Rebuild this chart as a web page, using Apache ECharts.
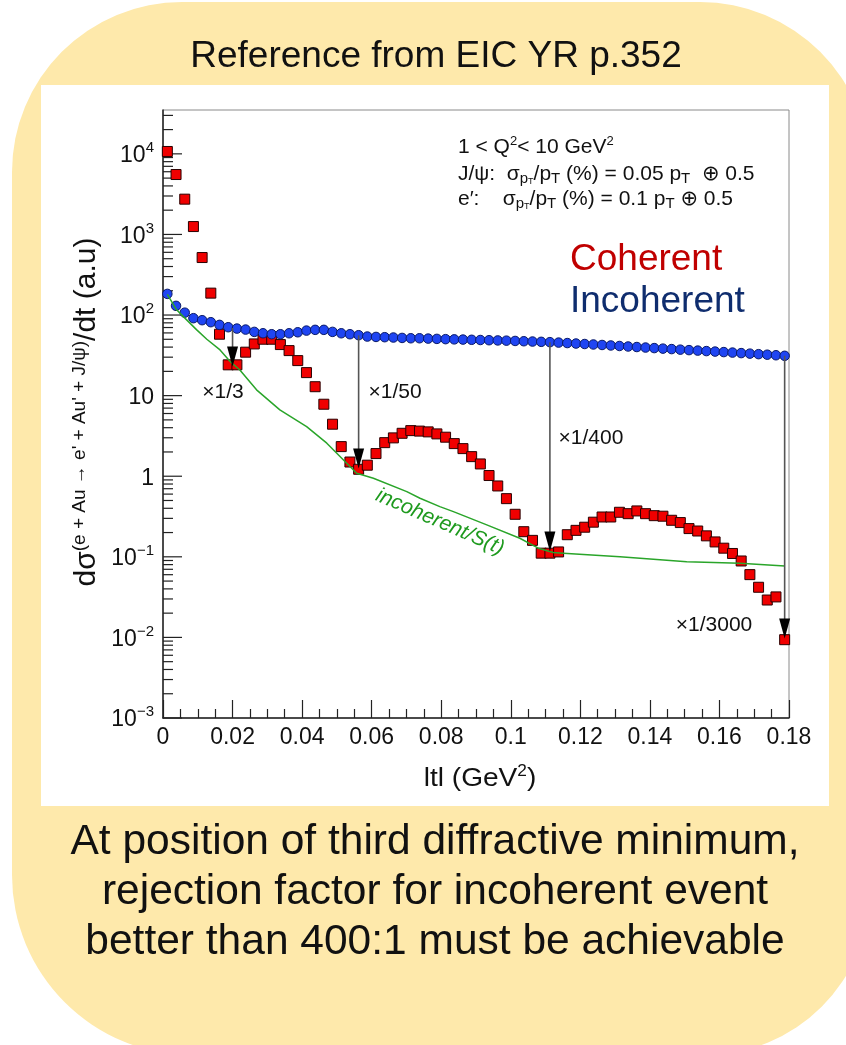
<!DOCTYPE html>
<html><head><meta charset="utf-8">
<script src="https://cdn.jsdelivr.net/npm/echarts@6/dist/echarts.min.js"></script>
<style>html,body{margin:0;padding:0;background:#fff}#c{width:846px;height:1045px}</style>
</head><body><div id="c"></div>
<script>
// |t| bin centres (GeV^2)
const tValues = [0.00125,0.00375,0.00625,0.00875,0.01125,0.01375,0.01625,0.01875,0.02125,0.02375,
0.02625,0.02875,0.03125,0.03375,0.03625,0.03875,0.04125,0.04375,0.04625,0.04875,
0.05125,0.05375,0.05625,0.05875,0.06125,0.06375,0.06625,0.06875,0.07125,0.07375,
0.07625,0.07875,0.08125,0.08375,0.08625,0.08875,0.09125,0.09375,0.09625,0.09875,
0.10125,0.10375,0.10625,0.10875,0.11125,0.11375,0.11625,0.11875,0.12125,0.12375,
0.12625,0.12875,0.13125,0.13375,0.13625,0.13875,0.14125,0.14375,0.14625,0.14875,
0.15125,0.15375,0.15625,0.15875,0.16125,0.16375,0.16625,0.16875,0.17125,0.17375,
0.17625,0.17875];
// Coherent (red squares)
const coherent = [10700,5540,2740,1253,517,187,57.8,24.1,24.1,34.6,
43.8,50.1,50.1,43.0,36.2,27.2,19.3,12.9,7.82,4.42,
2.33,1.50,1.22,1.37,1.91,2.61,2.99,3.41,3.68,3.63,
3.55,3.35,3.05,2.54,2.20,1.75,1.42,1.02,0.757,0.527,
0.337,0.205,0.160,0.111,0.111,0.115,0.188,0.213,0.233,0.269,
0.312,0.312,0.357,0.343,0.371,0.343,0.324,0.319,0.284,0.266,
0.224,0.209,0.182,0.153,0.128,0.110,0.0888,0.0601,0.0419,0.0291,
0.0318,0.00937];
// Incoherent (blue circles)
const incoherent = [183,130,107,91.4,86.3,81.5,75.5,70.6,67.9,66.0,
61.8,59.4,57.8,57.8,59.4,61.1,64.1,65.5,65.5,61.8,
59.4,57.8,56.2,54.1,53.5,53.1,52.6,52.0,51.5,51.5,
51.0,50.6,50.2,49.9,49.6,49.3,49.0,48.7,48.4,48.1,
47.7,47.3,46.9,46.5,46.1,45.5,44.9,44.3,43.7,43.1,
42.5,41.9,41.3,40.7,40.1,39.5,38.9,38.3,37.8,37.2,
36.7,36.2,35.7,35.2,34.7,34.2,33.7,33.2,32.7,32.2,
31.7,31.2];
// incoherent/S(t) curve (green)
const curveT = [0.00125,0.0039,0.0068,0.0097,0.0126,0.0164,0.0193,0.0221,0.0269,0.0336,0.0413,0.0471,0.0557,0.0605,0.0701,0.0739,0.0796,0.0835,0.0931,0.1026,0.1079,0.1122,0.1151,0.1314,0.1506,0.1659,0.1788];
const curveV = [180,116,87.1,65.4,50.1,36.9,26.5,20.8,11.8,6.65,4.13,2.57,1.09,0.944,0.644,0.533,0.420,0.364,0.249,0.170,0.128,0.113,0.111,0.1005,0.0871,0.0832,0.0770];
// arrows: position, start (incoherent), end (coherent minimum), label
const arrowT = [0.02,0.05625,0.11125,0.17875];
const arrowFrom = [69,56,46,31.2];
const arrowTo = [23,1.25,0.116,0.0097];
const arrowLabels = ['×1/3','×1/50','×1/400','×1/3000'];
// axis ticks
const xTicks = [0,0.02,0.04,0.06,0.08,0.1,0.12,0.14,0.16,0.18];
const yTickLabels = {'-3':'{b|10}{s|−3}','-2':'{b|10}{s|−2}','-1':'{b|10}{s|−1}','0':'{b|1}','1':'{b|10}','2':'{b|10}{s|2}','3':'{b|10}{s|3}','4':'{b|10}{s|4}'};
const yMin = 0.001, yMax = 35000;

const FF = '"Liberation Sans", Arial, Helvetica, "DejaVu Sans", sans-serif';
const yTicks = [];
for (let k = -3; k <= 4; k++) {
  for (let m = 1; m <= 9; m++) {
    const v = m * Math.pow(10, k);
    if (v <= yMax * 1.0001) yTicks.push([0, v, m === 1 ? 1 : 0]);
  }
}

const chart = echarts.init(document.getElementById('c'), null, {width: 846, height: 1045});

function txt(x, y, text, opt) {
  return Object.assign({type: 'text', x: x, y: y, z: 100,
    style: Object.assign({text: text, fontFamily: FF, fontSize: 20, fill: '#111', align: 'center', verticalAlign: 'middle'}, opt && opt.style)},
    opt && opt.el);
}

const labelPos = [[223,392],[395,392],[591,438],[714,625]];

const graphics = [
  {type: 'rect', z: -100, shape: {x: 12, y: 2, width: 858, height: 1053, r: [170,170,165,180]}, style: {fill: '#FEE9AB'}},
  {type: 'rect', z: -90, shape: {x: 41, y: 85, width: 788, height: 721}, style: {fill: '#ffffff'}},
  txt(436, 57, 'Reference from EIC YR p.352', {style: {fontSize: 37}}),
  txt(435, 842, 'At position of third diffractive minimum,', {style: {fontSize: 42.5}}),
  txt(435, 892, 'rejection factor for incoherent event', {style: {fontSize: 42.5}}),
  txt(435, 942, 'better than 400:1 must be achievable', {style: {fontSize: 42.5}}),
  txt(570, 260, 'Coherent', {style: {fontSize: 37, fill: '#C00000', align: 'left'}}),
  txt(570, 302, 'Incoherent', {style: {fontSize: 37, fill: '#0F2D6E', align: 'left'}}),
  txt(458, 146, '{m|1 < Q}{u|2}{m|< 10 GeV}{u|2}', {style: {align: 'left', rich: {
    m: {fontSize: 21, fontFamily: FF, fill: '#111', verticalAlign: 'bottom', lineHeight: 23},
    u: {fontSize: 13, fontFamily: FF, fill: '#111', verticalAlign: 'top', lineHeight: 14}}}}),
  txt(458, 175, '{m|J/ψ:  σ}{s|p}{t|T}{m|/p}{s|T}{m| (%) = 0.05 p}{s|T}{m|  ⊕ 0.5}', {style: {align: 'left', rich: {
    m: {fontSize: 21, fontFamily: FF, fill: '#111', verticalAlign: 'top', lineHeight: 23},
    s: {fontSize: 15, fontFamily: FF, fill: '#111', verticalAlign: 'bottom', lineHeight: 16},
    t: {fontSize: 9, fontFamily: FF, fill: '#111', verticalAlign: 'bottom', lineHeight: 8}}}}),
  txt(458, 200, '{m|e′:    σ}{s|p}{t|T}{m|/p}{s|T}{m| (%) = 0.1 p}{s|T}{m| ⊕ 0.5}', {style: {align: 'left', rich: {
    m: {fontSize: 21, fontFamily: FF, fill: '#111', verticalAlign: 'top', lineHeight: 23},
    s: {fontSize: 15, fontFamily: FF, fill: '#111', verticalAlign: 'bottom', lineHeight: 16},
    t: {fontSize: 9, fontFamily: FF, fill: '#111', verticalAlign: 'bottom', lineHeight: 8}}}}),
  txt(440, 522, 'incoherent/S(t)', {style: {fontSize: 21, fontStyle: 'italic', fill: '#1E9A1E'}, el: {rotation: -0.412}}),
  txt(86, 412, '{m|dσ}{s|(e + Au → e\' + Au\' + J/ψ)}{m|/dt (a.u)}', {el: {rotation: Math.PI / 2}, style: {rich: {
    m: {fontSize: 30, fontFamily: FF, fill: '#111', verticalAlign: 'bottom', lineHeight: 32},
    s: {fontSize: 19, fontFamily: FF, fill: '#111', verticalAlign: 'top', lineHeight: 21}}}}),
  txt(480, 778, '{m|ltl (GeV}{u|2}{m|)}', {el: {scaleX: 1.08}, style: {rich: {
    m: {fontSize: 26, fontFamily: FF, fill: '#111', verticalAlign: 'bottom', lineHeight: 28},
    u: {fontSize: 16, fontFamily: FF, fill: '#111', verticalAlign: 'top', lineHeight: 17}}}})
];
arrowLabels.forEach((l, i) => graphics.push(txt(labelPos[i][0], labelPos[i][1], l, {style: {fontSize: 21}})));

chart.setOption({
  animation: false,
  backgroundColor: 'transparent',
  graphic: graphics,
  grid: {left: 163, top: 110, width: 626, height: 608, show: true, borderColor: '#8a8a8a', borderWidth: 1, backgroundColor: 'transparent'},
  xAxis: {
    type: 'value', min: 0, max: 0.18, interval: 0.02,
    axisLine: {onZero: false, lineStyle: {color: '#222', width: 1.5}},
    axisTick: {inside: true, length: 18, lineStyle: {color: '#222', width: 1.2}},
    minorTick: {show: true, splitNumber: 4, length: 9, lineStyle: {color: '#222', width: 1.2}},
    splitLine: {show: false},
    axisLabel: {margin: 8, fontSize: 23, fontFamily: FF, color: '#111',
      formatter: v => { const i = xTicks.findIndex(t => Math.abs(t - v) < 1e-9); return i >= 0 ? String(xTicks[i]) : ''; }}
  },
  yAxis: {
    type: 'log', logBase: 10, min: yMin, max: yMax,
    axisLine: {lineStyle: {color: '#222', width: 1.5}},
    axisTick: {show: false},
    minorTick: {show: false},
    splitLine: {show: false},
    axisLabel: {margin: 9, fontFamily: FF, color: '#111',
      formatter: v => { const e = Math.log10(v); const k = Math.round(e); if (Math.abs(e - k) > 1e-6) return ''; return yTickLabels[String(k)] || ''; },
      rich: {
        b: {fontSize: 23, fontFamily: FF, color: '#111', verticalAlign: 'bottom', lineHeight: 27},
        s: {fontSize: 15, fontFamily: FF, color: '#111', verticalAlign: 'top', lineHeight: 16}
      }}
  },
  series: [
    {type: 'custom', coordinateSystem: 'cartesian2d', silent: true, clip: false, z: 3,
      data: yTicks,
      renderItem: (params, api) => {
        const p = api.coord([0, api.value(1)]);
        const len = api.value(2) ? 19 : 10;
        return {type: 'line', shape: {x1: p[0], y1: p[1], x2: p[0] + len, y2: p[1]}, style: {stroke: '#222', lineWidth: 1.2}};
      }},
    {type: 'scatter', name: 'Coherent', symbol: 'rect', symbolSize: 10, z: 4,
      data: tValues.map((t, i) => [t, coherent[i]]),
      itemStyle: {color: '#F00000', borderColor: '#2a0000', borderWidth: 1, opacity: 1}},
    {type: 'scatter', name: 'Incoherent', symbol: 'circle', symbolSize: 9.5, z: 5,
      data: tValues.map((t, i) => [t, incoherent[i]]),
      itemStyle: {color: '#1F45F2', borderColor: '#0a1a66', borderWidth: 1, opacity: 1}},
    {type: 'line', name: 'incoherent/S(t)', showSymbol: false, z: 6,
      data: curveT.map((t, i) => [t, curveV[i]]),
      lineStyle: {color: '#2AA52A', width: 1.5}},
    {type: 'custom', coordinateSystem: 'cartesian2d', silent: true, clip: false, z: 7,
      data: arrowT.map((t, i) => [t, arrowFrom[i], arrowTo[i]]),
      renderItem: (params, api) => {
        const a = api.coord([api.value(0), api.value(1)]);
        const b = api.coord([api.value(0), api.value(2)]);
        const hh = 20, hw = 5.5;
        return {type: 'group', children: [
          {type: 'line', shape: {x1: a[0], y1: a[1], x2: b[0], y2: b[1] - hh + 2}, style: {stroke: '#555', lineWidth: 1.6}},
          {type: 'polygon', shape: {points: [[b[0] - hw, b[1] - hh], [b[0] + hw, b[1] - hh], [b[0], b[1]]]}, style: {fill: '#000'}}
        ]};
      }}
  ]
});
</script>
</body></html>
